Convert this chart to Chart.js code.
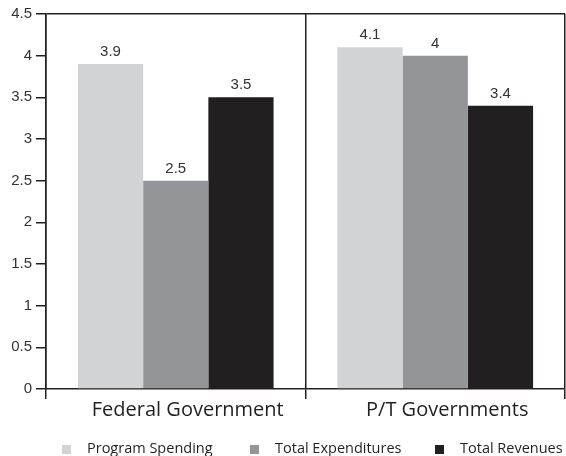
<!DOCTYPE html>
<html lang="en">
<head>
  <meta charset="UTF-8" />
  <title>Spending and Revenues</title>
  <script src="https://cdn.jsdelivr.net/npm/chart.js"></script>
  <style>
    html, body { margin: 0; padding: 0; background: #fff; }
    #wrap { width: 566px; height: 456px; position: relative; overflow: hidden; }
  </style>
</head>
<body>
  <div id="wrap"><canvas id="chart" width="566" height="456"></canvas></div>

  <script>
    const categories = ["Federal Government", "P/T Governments"];
    const seriesNames = ["Program Spending", "Total Expenditures", "Total Revenues"];
    const programSpending = [3.9, 4.1];
    const totalExpenditures = [2.5, 4];
    const totalRevenues = [3.5, 3.4];
    const yTicks = [0, 0.5, 1, 1.5, 2, 2.5, 3, 3.5, 4, 4.5];

    const colors = ["#d1d3d4", "#939598", "#231f20"];
    const ink = "#231f20";

    // values above bars
    const valueLabels = {
      id: "valueLabels",
      afterDatasetsDraw(chart) {
        const ctx = chart.ctx;
        ctx.save();
        ctx.font = "15px 'Liberation Sans', Arial, sans-serif";
        ctx.fillStyle = "#333";
        ctx.textAlign = "center";
        ctx.textBaseline = "alphabetic";
        chart.data.datasets.forEach((ds, i) => {
          chart.getDatasetMeta(i).data.forEach((bar, j) => {
            ctx.fillText(String(ds.data[j]), bar.x, bar.y - 8);
          });
        });
        ctx.restore();
      }
    };

    // legend drawn by hand so spacing matches
    const bottomLegend = {
      id: "bottomLegend",
      afterDraw(chart) {
        const ctx = chart.ctx;
        const boxX = [62, 250, 435];
        ctx.save();
        ctx.font = "14.5px 'Open Sans', sans-serif";
        ctx.textBaseline = "middle";
        chart.data.datasets.forEach((ds, i) => {
          ctx.fillStyle = ds.backgroundColor;
          ctx.fillRect(boxX[i], 445, 9, 9);
          ctx.fillStyle = "#231f20";
          ctx.fillText(ds.label, boxX[i] + 25, 449);
        });
        ctx.restore();
      }
    };

    new Chart(document.getElementById("chart"), {
      type: "bar",
      data: {
        labels: categories,
        datasets: [
          { label: seriesNames[0], data: programSpending, backgroundColor: colors[0] },
          { label: seriesNames[1], data: totalExpenditures, backgroundColor: colors[1] },
          { label: seriesNames[2], data: totalRevenues, backgroundColor: colors[2] }
        ]
      },
      options: {
        responsive: false,
        animation: false,
        layout: { padding: { top: 14, right: 1, left: 0, bottom: 0 } },
        datasets: { bar: { categoryPercentage: 0.754, barPercentage: 1 } },
        plugins: {
          legend: { display: false },
          tooltip: { enabled: false }
        },
        scales: {
          x: {
            grid: { color: ink, lineWidth: 1.5, tickLength: 10, offset: true },
            border: { color: ink, width: 1.5 },
            ticks: {
              color: "#231f20",
              font: { family: "'Open Sans', sans-serif", size: 20 },
              labelOffset: 12,
              padding: -1
            },
            afterFit: s => { s.height = 67; }
          },
          y: {
            min: 0,
            max: 4.5,
            afterBuildTicks: s => { s.ticks = yTicks.map(v => ({ value: v })); },
            grid: {
              lineWidth: 1.5,
              tickLength: 10,
              color: c => (c.tick && c.tick.value === 4.5 ? ink : "rgba(0,0,0,0)"),
              tickColor: ink
            },
            border: { color: ink, width: 1.5 },
            ticks: {
              color: "#333",
              padding: 4,
              font: { family: "'Liberation Sans', Arial, sans-serif", size: 15 },
              callback: v => String(v)
            },
            afterFit: s => { s.width = 46; }
          }
        }
      },
      plugins: [valueLabels, bottomLegend]
    });
  </script>
</body>
</html>
